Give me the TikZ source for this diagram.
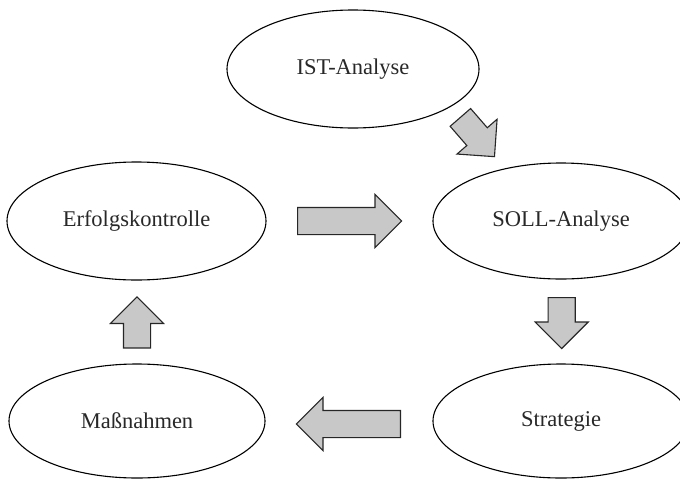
\documentclass[tikz,border=0pt]{standalone}
\usepackage{fontspec}
\setmainfont{Liberation Serif}
\usetikzlibrary{shapes.geometric,shapes.arrows}
\definecolor{arrowgray}{RGB}{200,200,200}
\definecolor{textgray}{RGB}{40,40,40}
\tikzset{
  phase/.style={ellipse, draw=black, line width=1.1pt, inner sep=0pt,
    text=textgray, font=\fontsize{22.5}{27}\selectfont},
  blockarrow/.style={single arrow, draw=black!85, line width=1.1pt, fill=arrowgray,
    inner sep=13pt, single arrow head extend=13pt, minimum width=0pt,
    single arrow tip angle=90, anchor=tail}
}
\begin{document}
\begin{tikzpicture}[x=1pt,y=-1pt]
\useasboundingbox (0,0) rectangle (680,480);
\clip (0,0) rectangle (680,480);
\node[phase, minimum width=252pt, minimum height=118pt] (ist) at (353,69) {IST-Analyse};
\node[phase, minimum width=259pt, minimum height=118pt] (erf) at (136.5,221) {Erfolgskontrolle};
\node[phase, minimum width=256pt, minimum height=116pt] (soll) at (561,221) {SOLL-Analyse};
\node[phase, minimum width=256pt, minimum height=114pt] (mas) at (137,421) {Maßnahmen};
\node[phase, minimum width=256pt, minimum height=114pt] (str) at (561,421) {Strategie};
\node[blockarrow, minimum height=52pt, rotate=-49] (a1) at (460,117) {};
\node[blockarrow, minimum height=104pt, rotate=0] (a2) at (297,221) {};
\node[blockarrow, minimum height=51pt, rotate=-90] (a3) at (561.7,297) {};
\node[blockarrow, minimum height=104pt, rotate=180] (a4) at (401,424) {};
\node[blockarrow, minimum height=51pt, rotate=90] (a5) at (137,348.5) {};
\end{tikzpicture}
\end{document}
